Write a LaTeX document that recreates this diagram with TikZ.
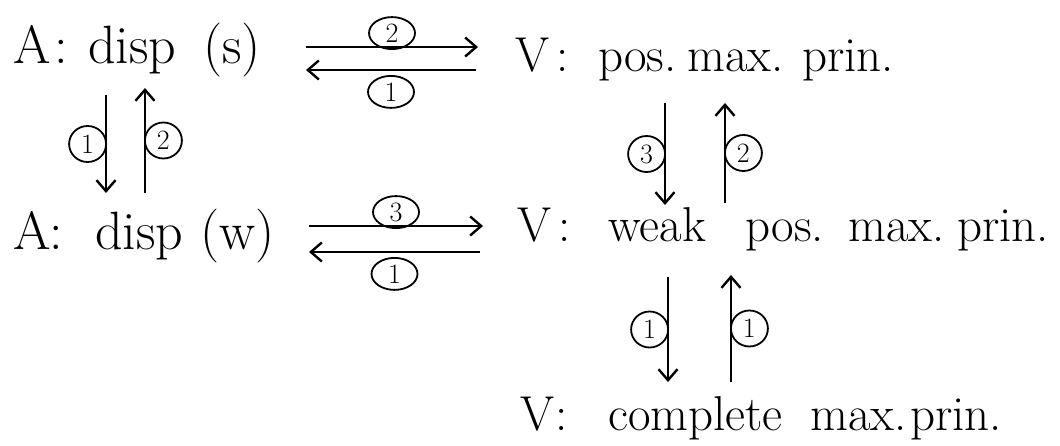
\documentclass[tikz,border=0pt]{standalone}
\usetikzlibrary{arrows.meta,shapes.geometric}
\newcommand{\wbox}[2]{\makebox[#1][l]{#2}}
\begin{document}
\begin{tikzpicture}[x=1pt,y=1pt,
  txt/.style={inner sep=0pt,anchor=base west,font=\fontsize{49}{53}\selectfont},
  atxt/.style={txt,font=\fontsize{54}{58}\selectfont},
  arr/.style={line width=2.4pt,-{Straight Barb[length=11pt,width=19pt,line width=2.4pt]}},
  lab/.style={draw,ellipse,line width=1.8pt,inner sep=0pt,minimum width=37pt,minimum height=36pt,font=\fontsize{28}{30}\selectfont},
  hlab/.style={lab,minimum width=46pt,minimum height=32pt}]
\useasboundingbox (0,0) rectangle (1060,-446);
\node[atxt] (A1) at (13,-64) {\wbox{41pt}{A}\wbox{34pt}{:}\wbox{115pt}{disp}(s)};
\node[txt] (V1) at (515,-72) {\wbox{41pt}{V}\wbox{42pt}{:}\wbox{89pt}{pos.}\wbox{115pt}{max.}prin.};
\node[atxt] (A2) at (13,-250) {\wbox{36pt}{A}\wbox{46pt}{:}\wbox{105pt}{disp}(w)};
\node[txt] (V2) at (517,-242) {\wbox{41pt}{V}\wbox{50pt}{:}\wbox{137pt}{weak}\wbox{103pt}{pos.}\wbox{109pt}{max.}prin.};
\node[txt] (V3) at (520,-430) {\wbox{35pt}{V}\wbox{53pt}{:}\wbox{202pt}{complete}\wbox{100pt}{max.}prin.};
% horizontal arrows, top
\draw[arr] ([shift={(293,17)}]A1.base west) -- node[hlab,anchor=south,yshift=-3pt] {2} ([shift={(-37,25)}]V1.base west);
\draw[arr] ([shift={(-39,2)}]V1.base west) -- node[hlab,anchor=north,yshift=-5pt] {1} ([shift={(293,-6)}]A1.base west);
% horizontal arrows, middle
\draw[arr] ([shift={(296,24)}]A2.base west) -- node[hlab,anchor=south,yshift=-3pt] {3} ([shift={(-34,16)}]V2.base west);
\draw[arr] ([shift={(-37,-10)}]V2.base west) -- node[hlab,anchor=north,yshift=-5pt] {1} ([shift={(296,-2)}]A2.base west);
% left verticals
\draw[arr] ([shift={(93,-31)}]A1.base west) -- node[lab,anchor=east,xshift=1pt] {1} ([shift={(93,57)}]A2.base west);
\draw[arr] ([shift={(132,57)}]A2.base west) -- node[lab,anchor=west,xshift=-1pt] {2} ([shift={(132,-24)}]A1.base west);
% right verticals
\draw[arr] ([shift={(150,-31)}]V1.base west) -- node[lab,anchor=east,xshift=1pt] {3} ([shift={(148,37)}]V2.base west);
\draw[arr] ([shift={(208,39)}]V2.base west) -- node[lab,anchor=west,xshift=-1pt] {2} ([shift={(210,-31)}]V1.base west);
% bottom verticals
\draw[arr] ([shift={(151,-35)}]V2.base west) -- node[lab,anchor=east,xshift=1pt] {1} ([shift={(148,48)}]V3.base west);
\draw[arr] ([shift={(211,48)}]V3.base west) -- node[lab,anchor=west,xshift=-1pt] {1} ([shift={(214,-33)}]V2.base west);
\end{tikzpicture}
\end{document}
